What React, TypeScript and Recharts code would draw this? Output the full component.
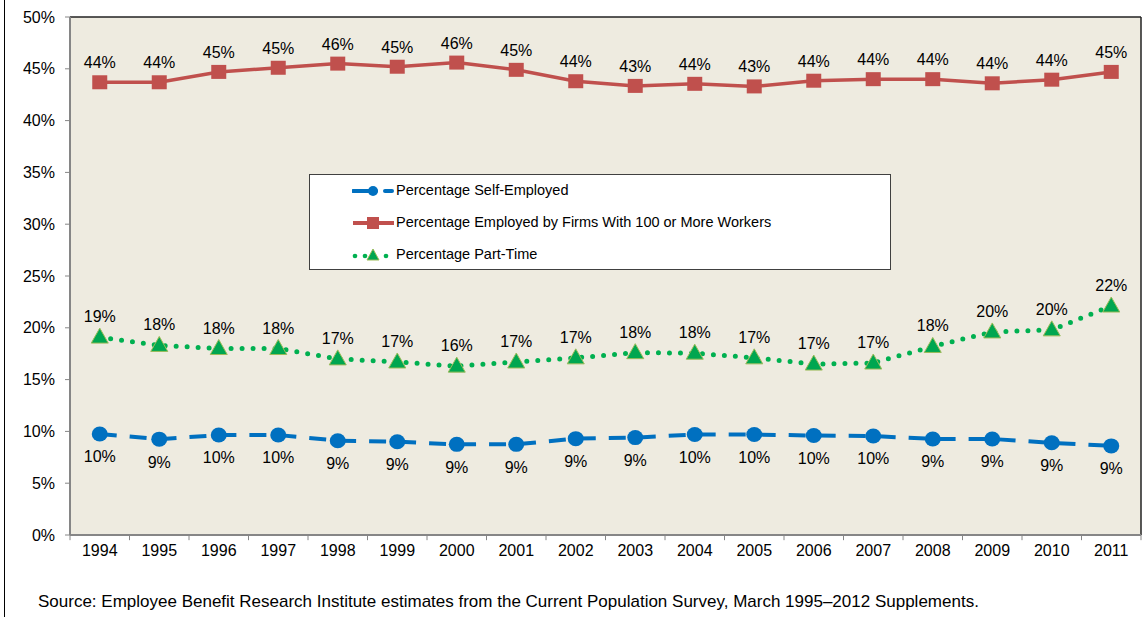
import React from "react";
import { LineChart, Line, XAxis, YAxis, CartesianGrid, Legend, LabelList, ReferenceLine } from "recharts";

// years on the x axis
const years = [1994, 1995, 1996, 1997, 1998, 1999, 2000, 2001, 2002, 2003, 2004, 2005, 2006, 2007, 2008, 2009, 2010, 2011];

// percentages
const selfEmployed = [9.75, 9.25, 9.65, 9.65, 9.1, 9.0, 8.75, 8.75, 9.3, 9.4, 9.7, 9.7, 9.6, 9.55, 9.27, 9.27, 8.9, 8.6];
const largeFirms = [43.7, 43.7, 44.7, 45.1, 45.5, 45.2, 45.6, 44.9, 43.8, 43.35, 43.55, 43.3, 43.85, 44.0, 44.0, 43.6, 43.95, 44.7];
const partTime = [19.1, 18.3, 18.0, 18.0, 17.0, 16.7, 16.3, 16.7, 17.1, 17.6, 17.55, 17.1, 16.5, 16.6, 18.2, 19.6, 19.8, 22.1];

const yTicks = [0, 5, 10, 15, 20, 25, 30, 35, 40, 45, 50];
// tick marks sit between the years, excel style
const boundaryTicks = years.map((y) => y - 0.5).concat([2011.5]);

const seriesNames = {
  selfEmployed: "Percentage Self-Employed",
  largeFirms: "Percentage Employed by Firms With 100 or More Workers",
  partTime: "Percentage Part-Time",
};

const data = years.map((year, i) => ({
  year,
  selfEmployed: selfEmployed[i],
  largeFirms: largeFirms[i],
  partTime: partTime[i],
}));

const BLUE = "#0070C0";
const RED = "#C0504D";
const GREEN = "#00B050";
const AXIS = "#868686";
const FONT = "'Liberation Sans', Arial, sans-serif";

const pct = (v: any) => Math.round(Number(v)) + "%";

const CircleDot = (props: any) => {
  const { cx, cy, index } = props;
  return <ellipse key={"c" + index} cx={cx} cy={cy} rx={8} ry={7.5} fill={BLUE} />;
};

const SquareDot = (props: any) => {
  const { cx, cy, index } = props;
  return <rect key={"s" + index} x={cx - 7.5} y={cy - 7} width={15} height={14} fill={RED} />;
};

const TriangleDot = (props: any) => {
  const { cx, cy, index } = props;
  return (
    <polygon
      key={"t" + index}
      points={`${cx},${cy - 9} ${cx - 8.5},${cy + 6} ${cx + 8.5},${cy + 6}`}
      fill="#00A650"
      stroke="#9BBB59"
      strokeWidth={1}
    />
  );
};

const LegendBox = () => (
  <div
    style={{
      width: 582,
      height: 96,
      boxSizing: "border-box",
      border: "1px solid #404040",
      background: "#fff",
      fontFamily: FONT,
      fontSize: 14.5,
      color: "#000",
      position: "relative",
    }}
  >
    {/* self-employed */}
    <svg width={44} height={16} style={{ position: "absolute", left: 42, top: 8 }}>
      <line x1={1} y1={8} x2={24} y2={8} stroke={BLUE} strokeWidth={4} strokeLinecap="round" />
      <circle cx={21} cy={8} r={5} fill={BLUE} />
      <line x1={33} y1={8} x2={40} y2={8} stroke={BLUE} strokeWidth={4} strokeLinecap="round" />
    </svg>
    <span style={{ position: "absolute", left: 86, top: 7 }}>{seriesNames.selfEmployed}</span>
    {/* large firms */}
    <svg width={44} height={16} style={{ position: "absolute", left: 42, top: 40 }}>
      <line x1={1} y1={8} x2={42} y2={8} stroke={RED} strokeWidth={4} />
      <rect x={15} y={2} width={12} height={12} fill={RED} />
    </svg>
    <span style={{ position: "absolute", left: 86, top: 39 }}>{seriesNames.largeFirms}</span>
    {/* part time */}
    <svg width={44} height={16} style={{ position: "absolute", left: 42, top: 72 }}>
      <circle cx={3} cy={9} r={2.3} fill={GREEN} />
      <circle cx={13} cy={9} r={2.3} fill={GREEN} />
      <polygon points="21,2 15,13 27,13" fill="#00A650" stroke="#9BBB59" strokeWidth={1} />
      <circle cx={34} cy={9} r={2.3} fill={GREEN} />
    </svg>
    <span style={{ position: "absolute", left: 86, top: 71 }}>{seriesNames.partTime}</span>
  </div>
);

export default function App() {
  return (
    <div
      style={{
        position: "absolute",
        left: 0,
        top: 0,
        width: 1146,
        height: 617,
        background: "#fff",
        fontFamily: FONT,
        overflow: "hidden",
      }}
    >
      <div style={{ position: "absolute", left: 4, top: 0, width: 1, height: 617, background: "#000" }} />
      <LineChart
        width={1146}
        height={617}
        data={data}
        margin={{ top: 17, right: 5, bottom: 52, left: 5 }}
        style={{ fontFamily: FONT }}
      >
        <CartesianGrid horizontal={false} vertical={false} fill="#EEEBE0" />
        <XAxis
          type="number"
          dataKey="year"
          domain={[1993.5, 2011.5]}
          ticks={years}
          height={30}
          tickLine={false}
          axisLine={{ stroke: AXIS, strokeWidth: 2 }}
          tickSize={6}
          tickMargin={4}
          interval={0}
          tick={{ fill: "#000", fontSize: 16 }}
        />
        <YAxis
          width={65}
          domain={[0, 50]}
          ticks={yTicks}
          tickFormatter={(v: number) => v + "%"}
          tickSize={5}
          tickMargin={10}
          tickLine={{ stroke: AXIS }}
          axisLine={{ stroke: AXIS, strokeWidth: 2 }}
          tick={{ fill: "#000", fontSize: 16 }}
        />
        {boundaryTicks.map((b) => (
          <ReferenceLine
            key={"bt" + b}
            segment={[
              { x: b, y: 0 },
              { x: b, y: -0.5 },
            ]}
            ifOverflow="visible"
            stroke={AXIS}
            strokeWidth={1}
          />
        ))}
        <ReferenceLine y={50} stroke="#222" strokeWidth={1.5} />
        <ReferenceLine x={2011.5} stroke="#222" strokeWidth={1.5} />
        <Line
          dataKey="largeFirms"
          name={seriesNames.largeFirms}
          stroke={RED}
          strokeWidth={3.5}
          dot={SquareDot}
          activeDot={false}
          isAnimationActive={false}
        >
          <LabelList dataKey="largeFirms" position="top" offset={14} formatter={pct} fill="#000" fontSize={16} />
        </Line>
        <Line
          dataKey="partTime"
          name={seriesNames.partTime}
          stroke={GREEN}
          strokeWidth={5}
          strokeDasharray="0 11"
          strokeLinecap="round"
          dot={TriangleDot}
          activeDot={false}
          isAnimationActive={false}
        >
          <LabelList dataKey="partTime" position="top" offset={15} formatter={pct} fill="#000" fontSize={16} />
        </Line>
        <Line
          dataKey="selfEmployed"
          name={seriesNames.selfEmployed}
          stroke={BLUE}
          strokeWidth={4}
          strokeDasharray="17 13"
          dot={CircleDot}
          activeDot={false}
          isAnimationActive={false}
        >
          <LabelList dataKey="selfEmployed" position="bottom" offset={17} formatter={pct} fill="#000" fontSize={16} />
        </Line>
        <Legend
          layout="vertical"
          align="center"
          verticalAlign="middle"
          content={() => <LegendBox />}
          wrapperStyle={{ left: 309, top: 174, width: 582, height: 96 }}
        />
      </LineChart>
      <div
        style={{
          position: "absolute",
          left: 38,
          top: 592,
          fontSize: 17,
          color: "#000",
          whiteSpace: "nowrap",
        }}
      >
        Source: Employee Benefit Research Institute estimates from the Current Population Survey, March 1995–2012 Supplements.
      </div>
    </div>
  );
}
